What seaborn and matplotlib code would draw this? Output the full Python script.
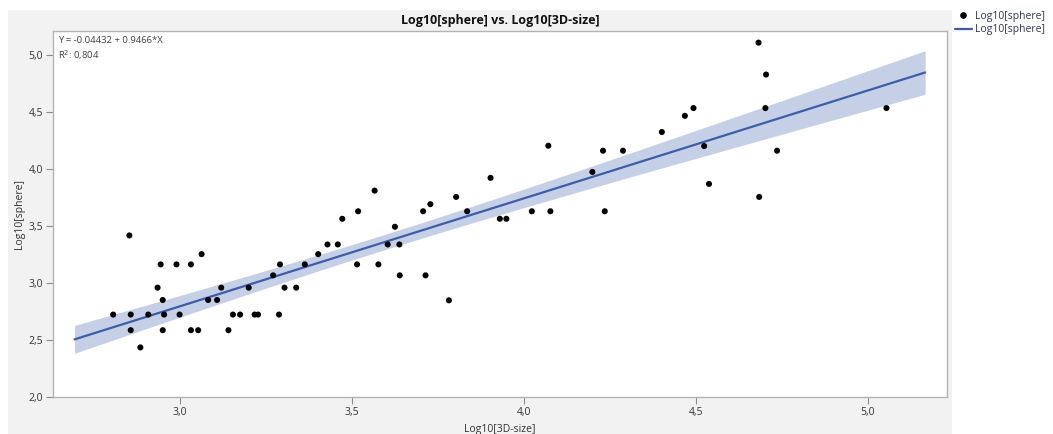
import numpy as np
import pandas as pd
import matplotlib
matplotlib.use("Agg")
import matplotlib.pyplot as plt
import seaborn as sns
from matplotlib.lines import Line2D
from matplotlib.patches import Rectangle

# ---- data ----
log_3d_size = [
    2.853, 3.063, 2.944, 2.990, 3.032, 3.291, 3.363, 3.402, 3.271, 2.935,
    3.120, 3.200, 3.304, 3.338, 2.950, 3.082, 3.108, 2.806, 2.857, 2.908,
    2.954, 2.999, 3.154, 3.175, 3.217, 3.227, 3.288, 2.857, 2.950, 3.032,
    3.053, 3.141, 2.885,
    3.903, 3.566, 3.803, 3.728, 3.707, 3.518, 3.835, 4.023, 4.077, 3.472,
    3.930, 3.949, 3.625, 3.429, 3.459, 3.604, 3.638, 3.515, 3.577, 3.639,
    3.714, 3.782,
    4.401, 4.071, 4.524, 4.230, 4.288, 4.736, 4.199, 4.538, 4.684, 4.235,
    4.682, 4.704, 4.702, 5.054, 4.493, 4.468,
]
log_sphere = [
    3.417, 3.253, 3.163, 3.163, 3.163, 3.163, 3.163, 3.253, 3.067, 2.959,
    2.959, 2.959, 2.959, 2.959, 2.851, 2.851, 2.851, 2.723, 2.723, 2.723,
    2.723, 2.723, 2.723, 2.723, 2.723, 2.723, 2.723, 2.586, 2.586, 2.586,
    2.586, 2.586, 2.435,
    3.922, 3.810, 3.755, 3.691, 3.629, 3.629, 3.629, 3.629, 3.629, 3.563,
    3.563, 3.563, 3.493, 3.338, 3.338, 3.338, 3.338, 3.163, 3.163, 3.067,
    3.067, 2.848,
    4.324, 4.204, 4.201, 4.160, 4.160, 4.160, 3.974, 3.869, 3.755, 3.629,
    5.108, 4.828, 4.534, 4.534, 4.534, 4.466,
]
fit_intercept = -0.04432
fit_slope = 0.9466
r_squared = "0,804"
x_ticks = [3.0, 3.5, 4.0, 4.5, 5.0]
y_ticks = [2.0, 2.5, 3.0, 3.5, 4.0, 4.5, 5.0]

df = pd.DataFrame({"x": log_3d_size, "y": log_sphere})

# ---- fit line and 95% confidence band ----
x = df["x"].to_numpy()
y = df["y"].to_numpy()
n = len(x)
rng = x.max() - x.min()
xs = np.linspace(x.min() - 0.05 * rng, x.max() + 0.05 * rng, 200)
ys = fit_intercept + fit_slope * xs
resid = y - (fit_intercept + fit_slope * x)
s = np.sqrt(np.sum(resid ** 2) / (n - 2))
sxx = np.sum((x - x.mean()) ** 2)
t = 1.994
half = t * s * np.sqrt(1.0 / n + (xs - x.mean()) ** 2 / sxx)
fit_df = pd.DataFrame({"x": xs, "y": ys})

sns.set_style("white")
plt.rcParams["font.family"] = ["Open Sans", "DejaVu Sans"]

W, H = 1053, 434
fig = plt.figure(figsize=(W / 100, H / 100), dpi=100, facecolor="white")
fig.patches.append(Rectangle((8 / W, 0), (952 - 8) / W, (H - 10) / H,
                             transform=fig.transFigure, facecolor="#f2f2f2",
                             edgecolor="none", zorder=-10))
ax = fig.add_axes([53 / W, (H - 397) / H, (947 - 53) / W, (397 - 31) / H])
ax.set_facecolor("white")

line_color = "#3d5da8"
ax.fill_between(xs, ys - half, ys + half, color="#c5cfe6", linewidth=0, zorder=1)
sns.lineplot(data=fit_df, x="x", y="y", ax=ax, color=line_color, linewidth=1.6,
             zorder=2, legend=False)
sns.scatterplot(data=df, x="x", y="y", ax=ax, color="black", s=19,
                edgecolor="none", zorder=3, legend=False)

ax.set_xlim(2.631, 5.230)
ax.set_ylim(2.0, 5.21)
ax.set_xticks(x_ticks)
ax.set_yticks(y_ticks)
ax.set_xticklabels([f"{v:.1f}".replace(".", ",") for v in x_ticks])
ax.set_yticklabels([f"{v:.1f}".replace(".", ",") for v in y_ticks])
ax.tick_params(axis="both", which="both", length=5, width=0.8, color="#8c8c8c",
               labelsize=7.5, labelcolor="#333333", pad=2, direction="out",
               bottom=True, left=True)
for sp in ax.spines.values():
    sp.set_color("#b4b4b4")
    sp.set_linewidth(1.0)

ax.set_xlabel("Log10[3D-size]", fontsize=7.5, color="#333333", labelpad=2)
ax.set_ylabel("Log10[sphere]", fontsize=7.5, color="#333333", labelpad=4)
ax.xaxis.set_label_coords(0.5, -0.075)
ax.yaxis.set_label_coords(-0.031, 0.5)

ax.set_title("Log10[sphere] vs. Log10[3D-size]", fontsize=9, fontweight="bold",
             color="#111111", pad=5)

ax.text(0.006, 0.985,
        f"Y = {fit_intercept:.5f} + {fit_slope:.4f}*X\nR$^2$: {r_squared}",
        transform=ax.transAxes, ha="left", va="top", fontsize=6.8,
        color="#404040", linespacing=1.3)

handles = [
    Line2D([], [], marker="o", linestyle="none", color="black", markersize=3.8),
    Line2D([], [], color=line_color, linewidth=1.6),
]
leg = fig.legend(handles, ["Log10[sphere]", "Log10[sphere]"],
                 loc="upper left", bbox_to_anchor=(953 / W, 1 - 9 / H),
                 frameon=False, fontsize=7.5, handlelength=1.6,
                 handletextpad=0.3, labelspacing=0.2, borderaxespad=0,
                 borderpad=0.2)
for tx in leg.get_texts():
    tx.set_color("#33335a")

fig.savefig("out.png", dpi=100, facecolor=fig.get_facecolor())
